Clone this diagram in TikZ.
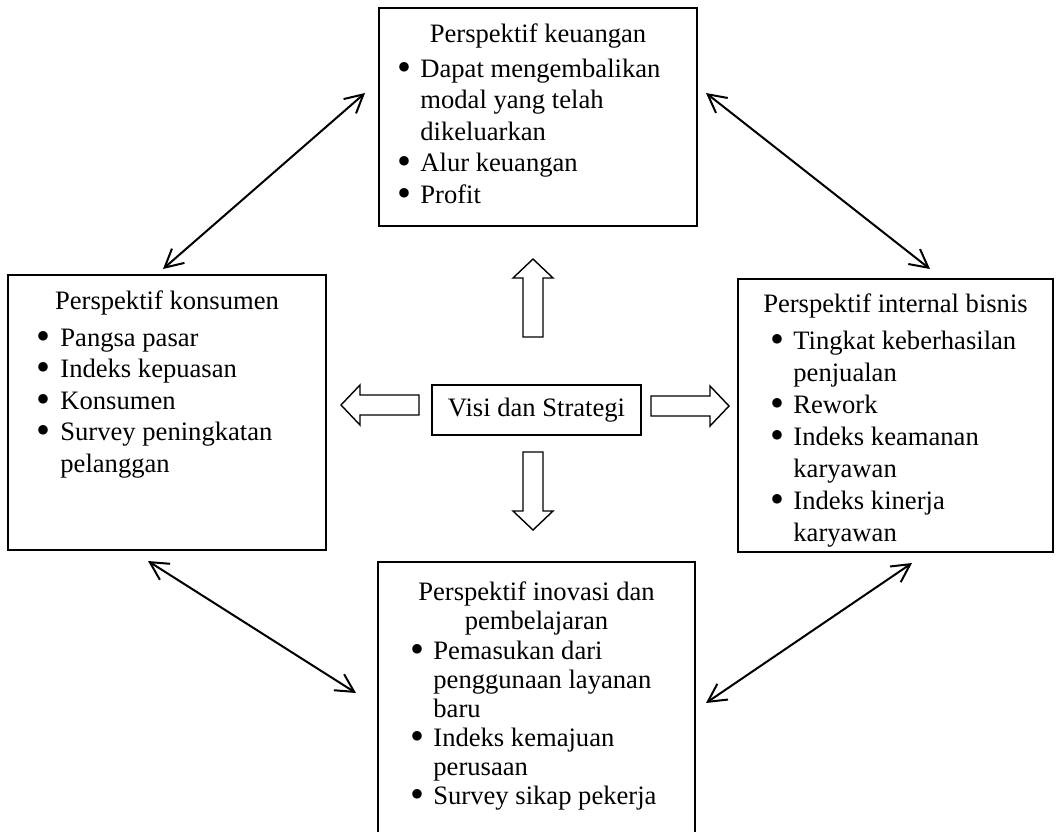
\documentclass[tikz,border=0pt]{standalone}
\usepackage{graphicx}
\usepackage{fontspec}
\setmainfont{Liberation Serif}
\usetikzlibrary{arrows.meta}

% bullet list lines: the bullet is centred on the list's left edge,
% #1 = distance from the bullet centre to the text, #2 = text
\newcommand{\bigbul}{\smash{\raisebox{-0.12em}{\scalebox{1.5}{\textbullet}}}}
\newcommand{\itm}[2]{\makebox[#1][l]{\makebox[0pt][c]{\bigbul}}#2}
\newcommand{\cnt}[2]{\hspace*{#1}#2}
% #1 = baseline skip, #2 = lines
\newcommand{\blist}[2]{\parbox[t]{170pt}{\raggedright\fontsize{13.3}{#1}\selectfont #2}}

\begin{document}
\begin{tikzpicture}[x=0.5pt,y=-0.5pt,
  box/.style={draw, line width=0.7pt, inner sep=0pt, fill=white},
  ttl/.style={anchor=base, inner sep=0pt, font=\fontsize{13.3}{15.5}\selectfont},
  lst/.style={anchor=base west, inner sep=0pt},
  link/.style={line width=1pt, {Straight Barb[length=9pt,width=9.5pt]}-{Straight Barb[length=9pt,width=9.5pt]}},
  blockarrow/.pic={\draw[line width=0.7pt, line join=miter]
    (0,-10) -- (59,-10) -- (59,-20) -- (78,0) -- (59,20) -- (59,10) -- (0,10) -- cycle;}]

\clip (0,0) rectangle (1058,831);

% the four perspective boxes and the centre box
\node[box, minimum width=159pt, minimum height=109pt] (keu) at (538,117) {};
\node[box, minimum width=159pt, minimum height=137.5pt] (kon) at (167,412.5) {};
\node[box, minimum width=157.5pt, minimum height=136.5pt] (int) at (895.5,415.5) {};
\node[box, minimum width=158.5pt, minimum height=149pt] (ino) at (536.5,711) {};
\node[box, minimum width=104.5pt, minimum height=25pt, font=\fontsize{13.3}{15.5}\selectfont] (visi) at (536.5,410) {Visi dan Strategi};

% financial perspective
\node[ttl] (keut) at (538,42) {Perspektif keuangan};
\node[lst] (keul) at (404,77) {\blist{15.75pt}{%
  \itm{8pt}{Dapat mengembalikan}\\
  \cnt{8pt}{modal yang telah}\\
  \cnt{8pt}{dikeluarkan}\\
  \itm{8pt}{Alur keuangan}\\
  \itm{8pt}{Profit}}};

% customer perspective
\node[ttl] (kont) at (167,309) {Perspektif konsumen};
\node[lst] (konl) at (43,346) {\blist{15.75pt}{%
  \itm{8.5pt}{Pangsa pasar}\\
  \itm{8.5pt}{Indeks kepuasan}\\
  \itm{8.5pt}{Konsumen}\\
  \itm{8.5pt}{Survey peningkatan}\\
  \cnt{8.5pt}{pelanggan}}};

% internal business perspective
\node[ttl] (intt) at (895.5,312) {Perspektif internal bisnis};
\node[lst] (intl) at (777,349) {\blist{16pt}{%
  \itm{8pt}{Tingkat keberhasilan}\\
  \cnt{8pt}{penjualan}\\
  \itm{8pt}{Rework}\\
  \itm{8pt}{Indeks keamanan}\\
  \cnt{8pt}{karyawan}\\
  \itm{8pt}{Indeks kinerja}\\
  \cnt{8pt}{karyawan}}};

% innovation and learning perspective
\node[ttl] (inot) at (536.5,600)
  {\parbox[t]{150pt}{\centering\fontsize{13.3}{14.5}\selectfont Perspektif inovasi dan\\ pembelajaran}};
\node[lst] (inol) at (417,659) {\blist{14.5pt}{%
  \itm{8pt}{Pemasukan dari}\\
  \cnt{8pt}{penggunaan layanan}\\
  \cnt{8pt}{baru}\\
  \itm{8pt}{Indeks kemajuan}\\
  \cnt{8pt}{perusaan}\\
  \itm{8pt}{Survey sikap pekerja}}};

% hollow block arrows from the centre
\pic[rotate=90]  at (533,337) {blockarrow};
\pic[rotate=-90] at (533,452) {blockarrow};
\pic[rotate=180] at (419,405) {blockarrow};
\pic             at (651,406) {blockarrow};

% ends of the two-headed links
\coordinate (a1) at (163,269);
\coordinate (a2) at (365,93);
\coordinate (b1) at (706,93);
\coordinate (b2) at (930,269);
\coordinate (c1) at (148,561);
\coordinate (c2) at (356,693);
\coordinate (d1) at (912,563);
\coordinate (d2) at (706,703);

\draw[link] (a1) -- (a2);
\draw[link] (b1) -- (b2);
\draw[link] (c1) -- (c2);
\draw[link] (d1) -- (d2);

\end{tikzpicture}
\end{document}
